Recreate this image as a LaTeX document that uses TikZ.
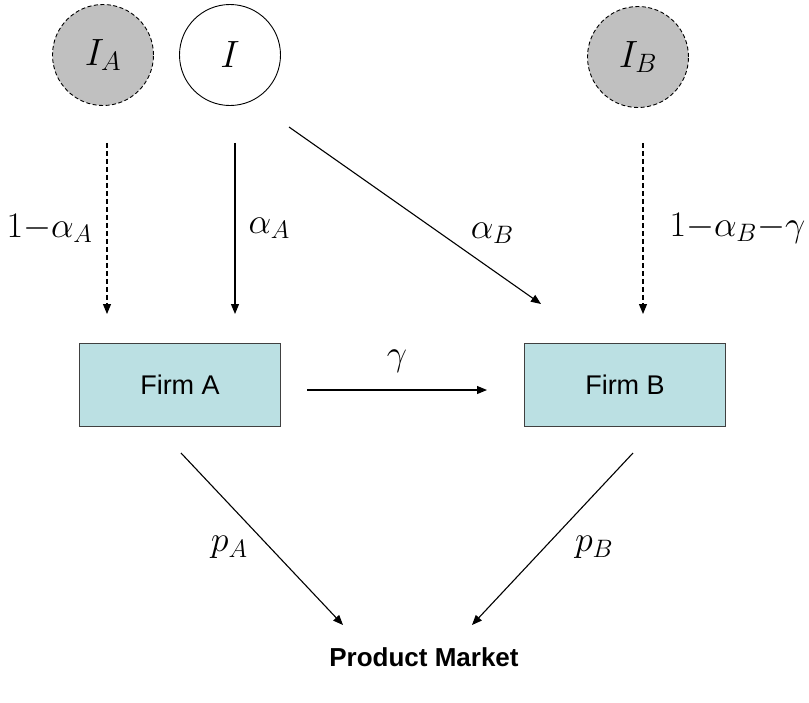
\RequirePackage{fix-cm}
\documentclass[tikz,border=0pt]{standalone}
\usepackage{amsmath}
\usepackage{fontspec}
\setmainfont{Liberation Sans}
\usepackage{tikz}
\usetikzlibrary{arrows.meta,calc}
\newcommand{\alA}{\alpha_{A}}
\newcommand{\alB}{\alpha_{B}}
\definecolor{firmfill}{RGB}{187,224,227}
\definecolor{privfill}{RGB}{192,192,192}
\definecolor{edgegray}{RGB}{64,64,64}
\tikzset{
    infonode/.style={
        circle,
        draw=black,
        line width=0.9pt,
        minimum size=101pt,
        inner sep=0pt,
        font=\fontsize{38}{44}\selectfont
    },
    privnode/.style={
        infonode,
        fill=privfill,
        dash pattern=on 4pt off 2.5pt
    },
    firmbox/.style={
        draw=edgegray,
        line width=1pt,
        fill=firmfill,
        minimum width=201pt,
        minimum height=83pt,
        inner sep=0pt,
        font=\fontsize{27}{32}\selectfont
    },
    arrow/.style={
        -{Triangle[length=10pt,width=8pt]},
        line width=1.1pt
    },
    dasharrow/.style={
        arrow,
        dash pattern=on 5pt off 3pt
    },
    mathlabel/.style={
        font=\fontsize{36}{42}\selectfont,
        inner sep=0pt
    }
}
\begin{document}
\begin{tikzpicture}[x=1pt, y=-1pt]
    \useasboundingbox (0,0) rectangle (809,702);

    \node[privnode] (IA) at (103,55) {$I_{A}$};
    \node[infonode] (I) at (230,55) {$I$};
    \node[privnode] (IB) at (638,57) {$I_{B}$};

    \node[firmbox] (firmA) at (180,385) {Firm A};
    \node[firmbox] (firmB) at (625,385) {Firm B};

    \node[font=\fontsize{26}{30}\selectfont\bfseries] (market) at (424,657)
        {Product Market};

    \draw[dasharrow]
        ($(IA.south)+(4,37)$) -- ($(IA.south |- firmA.north)+(4,-29)$)
        node[midway, mathlabel, left=14pt] {$1{-}\alA$};
    \draw[arrow]
        ($(I.south)+(5,37)$) -- ($(I.south |- firmA.north)+(5,-29)$)
        node[midway, mathlabel, right=13pt] {$\alA$};
    \draw[arrow]
        ($(I.center)+(59,72)$) -- ($(firmB.north west)+(17,-39)$)
        node[pos=0.6, mathlabel, right=30pt] {$\alB$};
    \draw[dasharrow]
        ($(IB.south)+(5,35)$) -- ($(IB.south |- firmB.north)+(5,-29)$)
        node[midway, mathlabel, right=26pt] {$1{-}\alB{-}\gamma$};

    \draw[arrow]
        ($(firmA.east)+(26,5)$) -- ($(firmB.west)+(-37,5)$)
        node[midway, mathlabel, above=17pt] {$\gamma$};

    \draw[arrow]
        ($(firmA.south)+(1,26)$) -- ($(market.center)+(-81,-32)$)
        node[pos=0.55, mathlabel, left=22pt] {$p_{A}$};
    \draw[arrow]
        ($(firmB.south)+(8,26)$) -- ($(market.center)+(48,-32)$)
        node[pos=0.55, mathlabel, right=30pt] {$p_{B}$};
\end{tikzpicture}
\end{document}
